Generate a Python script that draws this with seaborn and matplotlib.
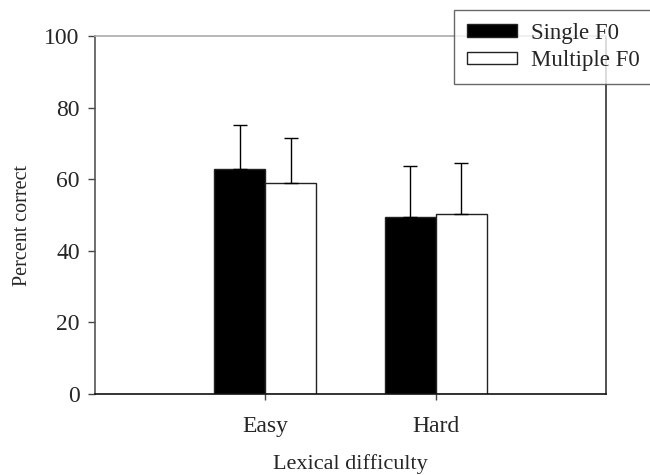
import matplotlib
matplotlib.use("Agg")
import matplotlib.pyplot as plt
import seaborn as sns
import pandas as pd
import numpy as np

# Mean percent correct and upper standard deviation by lexical difficulty
difficulty = ["Easy", "Hard"]
conditions = ["Single F0", "Multiple F0"]
single_f0 = [62.9, 49.4]
multiple_f0 = [59.0, 50.2]
single_f0_sd = [12.2, 14.3]
multiple_f0_sd = [12.5, 14.2]

df = pd.DataFrame({
    "difficulty": difficulty * 2,
    "condition": [conditions[0]] * 2 + [conditions[1]] * 2,
    "percent": single_f0 + multiple_f0,
    "sd": single_f0_sd + multiple_f0_sd,
})

sns.set_theme(style="white")
plt.rcParams["font.family"] = ["Liberation Serif", "DejaVu Serif"]

fig = plt.figure(figsize=(6.5, 4.75), dpi=100)
ax = fig.add_axes([95 / 650, 1 - 394 / 475, (606 - 95) / 650, (394 - 36) / 475])

sns.barplot(
    data=df, x="difficulty", y="percent", hue="condition",
    order=difficulty, hue_order=conditions,
    palette={"Single F0": "black", "Multiple F0": "white"},
    edgecolor="#222222", linewidth=1.0, width=0.6,
    errorbar=None, legend=False, ax=ax,
)

# Upward-only error bars placed at the centre of each drawn bar
for cond_idx, cond in enumerate(conditions):
    sub = df[df["condition"] == cond].set_index("difficulty").loc[difficulty]
    patches = ax.patches[cond_idx * len(difficulty):(cond_idx + 1) * len(difficulty)]
    xs = [p.get_x() + p.get_width() / 2 for p in patches]
    ax.errorbar(xs, sub["percent"], yerr=[np.zeros(len(xs)), sub["sd"]],
                fmt="none", ecolor="black", elinewidth=1.0, capsize=5,
                capthick=1.0, zorder=1)

ax.set_xlim(-1, 2)
ax.set_ylim(0, 100)
ax.set_yticks([0, 20, 40, 60, 80, 100])
ax.set_xlabel("Lexical difficulty", fontsize=16, labelpad=12)
ax.set_ylabel("Percent correct", fontsize=14.5, labelpad=9)
ax.yaxis.label.set_y(0.47)
ax.tick_params(axis="y", direction="out", length=5, width=1, color="#444444",
               labelsize=17, pad=6, left=True)
ax.tick_params(axis="x", direction="out", length=4, width=1, color="#444444",
               labelsize=17, pad=12, bottom=True)

for side, col in [("top", "#aaaaaa"), ("left", "#555555"),
                  ("right", "#333333"), ("bottom", "#111111")]:
    ax.spines[side].set_visible(True)
    ax.spines[side].set_color(col)
    ax.spines[side].set_linewidth(1.2)

handles = [plt.Rectangle((0, 0), 1, 1, facecolor="black", edgecolor="#222222", linewidth=1),
           plt.Rectangle((0, 0), 1, 1, facecolor="white", edgecolor="#222222", linewidth=1)]
leg = fig.legend(handles, conditions, loc="upper left",
                 bbox_to_anchor=(454 / 650, 1 - 10 / 475), borderaxespad=0,
                 fancybox=False, frameon=True, fontsize=16.5,
                 handlelength=2.2, handleheight=0.45, handletextpad=0.6,
                 borderpad=0.55, labelspacing=0.3)
leg.get_frame().set_edgecolor("#444444")
leg.get_frame().set_linewidth(1.0)

fig.savefig("out.png", dpi=100)
